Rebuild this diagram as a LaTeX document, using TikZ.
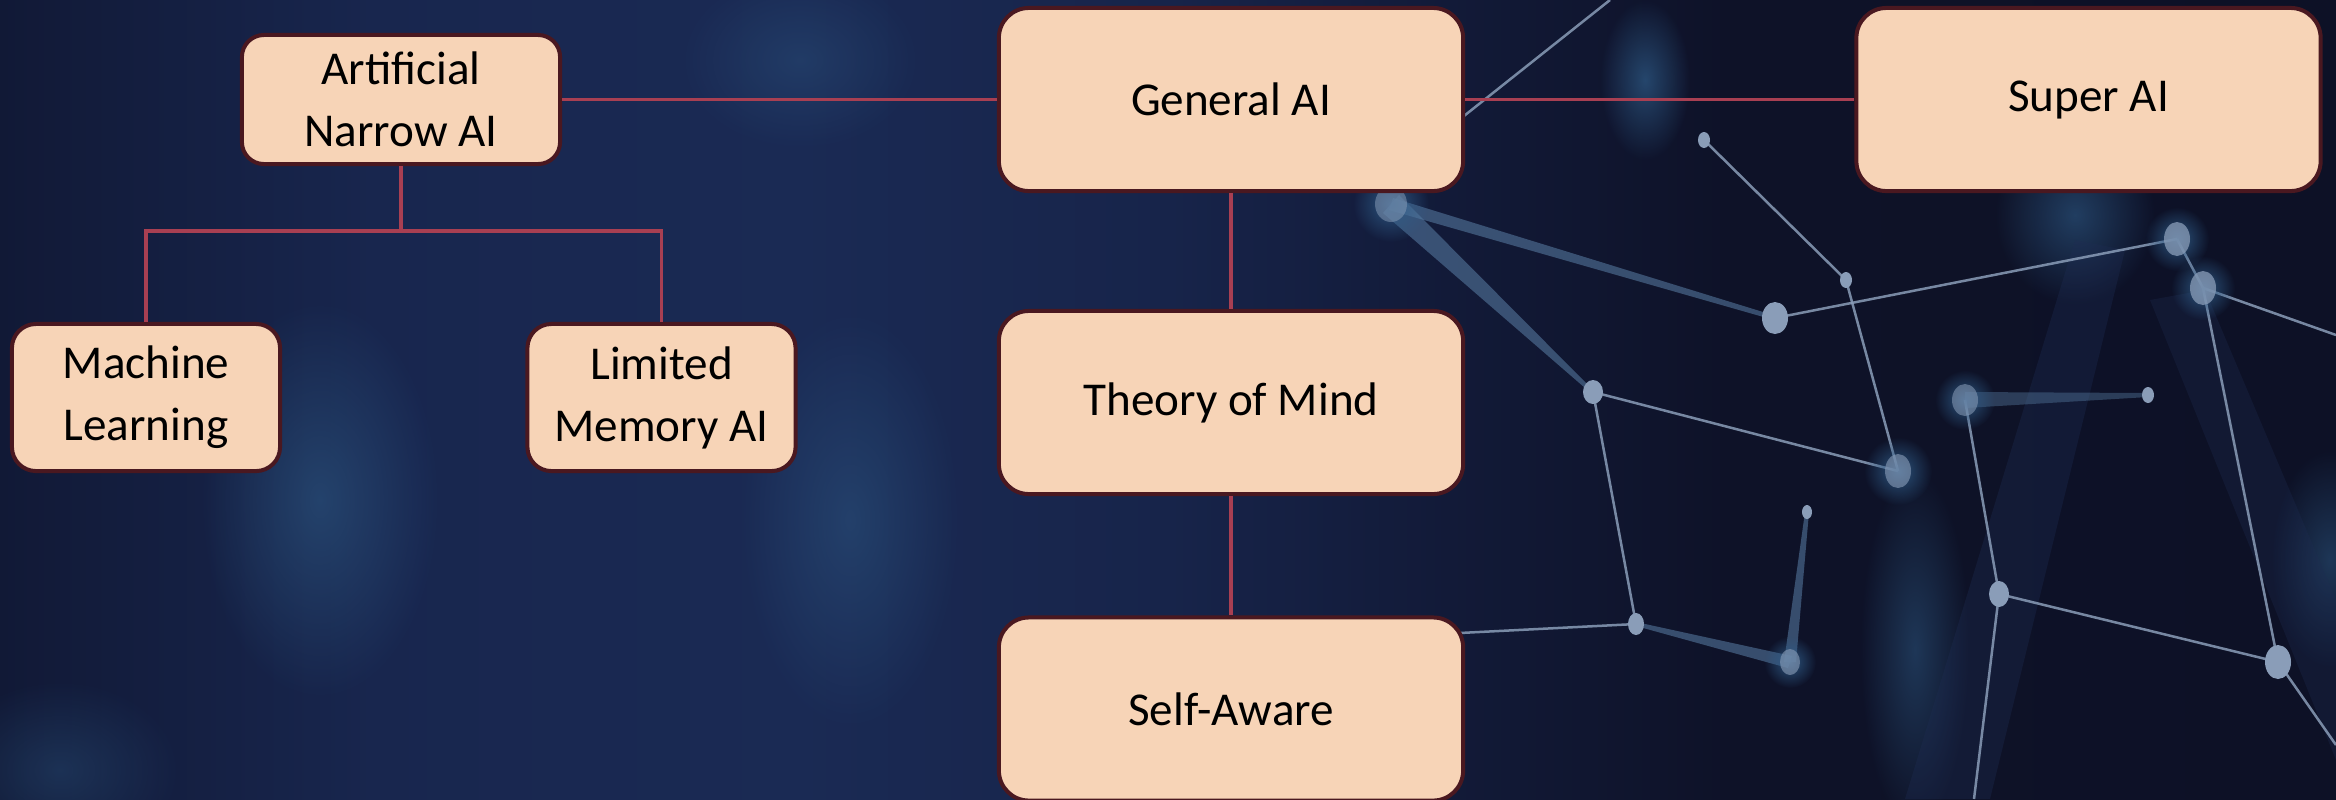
\documentclass[tikz,border=0pt]{standalone}
\usepackage{fontspec}
\setmainfont{Carlito}
\usetikzlibrary{fadings}
\definecolor{boxfill}{HTML}{F7D4B7}
\definecolor{boxline}{HTML}{4A1820}
\definecolor{conncol}{HTML}{A83F52}
\definecolor{bgA}{HTML}{111936}
\definecolor{bgB}{HTML}{18264E}
\definecolor{bgC}{HTML}{1A2A54}
\definecolor{bgD}{HTML}{17244A}
\definecolor{bgE}{HTML}{121A38}
\definecolor{bgF}{HTML}{0E1228}
\definecolor{bgG}{HTML}{0D1126}
\definecolor{netcol}{HTML}{8A9DB8}
\definecolor{beamcol}{HTML}{5A7FA6}
\definecolor{glowcol}{HTML}{2F5C88}
\definecolor{pillar}{HTML}{1E2C52}
\tikzfading[name=glowfade, inner color=transparent!0, outer color=transparent!100]
\pgfdeclarehorizontalshading{bgshade}{100bp}{color(0bp)=(bgA); color(25bp)=(bgA); color(33bp)=(bgB); color(42bp)=(bgC); color(50bp)=(bgD); color(56bp)=(bgE); color(62bp)=(bgF); color(75bp)=(bgG); color(100bp)=(bgG)}
\begin{document}
\begin{tikzpicture}[x=0.01cm,y=-0.01cm,
  box/.style={draw=boxline, line width=0.4mm, fill=boxfill, align=center, inner sep=0pt,
    font=\fontsize{13.4}{17.6}\selectfont, text=black},
  bigbox/.style={box, minimum width=4.64cm, minimum height=1.83cm, rounded corners=3.0mm},
  narrowbox/.style={box, minimum width=3.18cm, minimum height=1.29cm, rounded corners=2.2mm},
  leafbox/.style={box, minimum width=2.68cm, minimum height=1.47cm, rounded corners=2.4mm},
  conn/.style={draw=conncol, line width=0.32mm},
  net/.style={draw=netcol, line width=0.25mm, opacity=0.85},
  beam/.style={fill=beamcol, opacity=0.55},
  dotn/.style={fill=netcol},
  glow/.style={fill=glowcol, path fading=glowfade}
]
% background
\useasboundingbox (0,0) rectangle (2336,799);
\shade[shading=bgshade] (0,0) rectangle (2336,799);
% soft glows
\fill[glow, opacity=0.55] (320,500) ellipse [x radius=120, y radius=200];
\fill[glow, opacity=0.45] (850,520) ellipse [x radius=110, y radius=210];
\fill[glow, opacity=0.35] (800,60) ellipse [x radius=120, y radius=90];
\fill[glow, opacity=0.35] (60,770) ellipse [x radius=120, y radius=90];
\fill[glow, opacity=0.7] (1645,80) ellipse [x radius=45, y radius=80];
\fill[glow, opacity=0.6] (2075,215) ellipse [x radius=80, y radius=90];
\fill[glow, opacity=0.5] (1915,650) ellipse [x radius=55, y radius=180];
\fill[glow, opacity=0.5] (2330,560) ellipse [x radius=60, y radius=110];
% pillars
\fill[pillar, opacity=0.35] (1905,799) -- (1990,799) -- (2125,250) -- (2075,240) -- cycle;
\fill[pillar, opacity=0.3] (2150,300) -- (2205,290) -- (2336,600) -- (2336,760) -- cycle;
% network
\draw[net] (1610,0) -- (1440,135);
\fill[beam] (1399,195) -- (1594,391) -- (1592,394) -- (1383,213) -- cycle;
\fill[beam] (1393,198) -- (1776,316) -- (1774,320) -- (1389,210) -- cycle;
\draw[net] (1704,140) -- (1846,280) -- (1898,471);
\draw[net] (1775,318) -- (2177,239);
\draw[net] (2177,239) -- (2203,288);
\draw[net] (2203,288) -- (2336,335);
\draw[net] (1593,392) -- (1898,471);
\draw[net] (1593,392) -- (1636,624);
\draw[net] (1440,634) -- (1636,624);
\draw[net] (1965,400) -- (1999,594);
\draw[net] (1999,594) -- (2278,662);
\draw[net] (1999,594) -- (1974,799);
\draw[net] (2203,288) -- (2278,662);
\draw[net] (2278,662) -- (2336,745);
\fill[beam] (1805,512) -- (1809,512) -- (1796,662) -- (1784,662) -- cycle;
\fill[beam] (1636,622) -- (1636,626) -- (1788,668) -- (1792,656) -- cycle;
\fill[beam, opacity=0.4] (1965,392) -- (2148,393) -- (2148,397) -- (1965,408) -- cycle;
% dot halos
\fill[glow, opacity=0.9] (1391,204) circle [radius=38];
\fill[glow, opacity=0.9] (2177,239) circle [radius=32];
\fill[glow, opacity=0.9] (2203,288) circle [radius=32];
\fill[glow, opacity=0.9] (1898,471) circle [radius=34];
\fill[glow, opacity=0.9] (1965,400) circle [radius=30];
\fill[glow, opacity=0.9] (1790,662) circle [radius=26];
% dots
\fill[dotn] (1704,140) ellipse [x radius=6, y radius=8];
\fill[dotn] (1846,280) ellipse [x radius=6, y radius=8];
\fill[dotn] (1775,318) ellipse [x radius=13, y radius=16];
\fill[dotn, opacity=0.75] (2177,239) ellipse [x radius=13, y radius=17];
\fill[dotn, opacity=0.75] (2203,288) ellipse [x radius=13, y radius=17];
\fill[dotn] (1593,392) ellipse [x radius=10, y radius=12];
\fill[dotn, opacity=0.6] (1898,471) ellipse [x radius=13, y radius=17];
\fill[dotn, opacity=0.55] (1965,400) ellipse [x radius=13, y radius=16];
\fill[dotn] (2148,395) ellipse [x radius=6, y radius=8];
\fill[dotn] (1807,512) ellipse [x radius=5, y radius=7];
\fill[dotn] (1636,624) ellipse [x radius=8, y radius=11];
\fill[dotn, opacity=0.6] (1790,662) ellipse [x radius=10, y radius=13];
\fill[dotn] (1999,594) ellipse [x radius=10, y radius=13];
\fill[dotn] (2278,662) ellipse [x radius=13, y radius=17];
\fill[dotn, opacity=0.5] (1391,204) ellipse [x radius=16, y radius=18];
% boxes
\node[narrowbox] (ana) at (401,99.5) {Artificial\\Narrow AI};
\node[leafbox] (ml) at (146,397.5) {Machine\\Learning};
\node[leafbox] (lm) at (661.5,397.5) {Limited\\Memory AI};
\node[bigbox] (ga) at (1231,99.5) {General AI};
\node[bigbox] (super) at (2088.5,99.5) {Super AI};
\node[bigbox] (tom) at (1231,402.5) {Theory of Mind};
\node[bigbox] (sa) at (1231,709) {Self-Aware};
% connectors
\coordinate (bus) at (401,231);
\draw[conn] (ana.east) -- (ga.west);
\draw[conn] (ga.east) -- (super.west);
\draw[conn] (ga.south) -- (tom.north);
\draw[conn] (tom.south) -- (sa.north);
\draw[conn] (ana.south) -- (bus);
\draw[conn] (ml.north) |- (bus) -| (lm.north);
\end{tikzpicture}
\end{document}
